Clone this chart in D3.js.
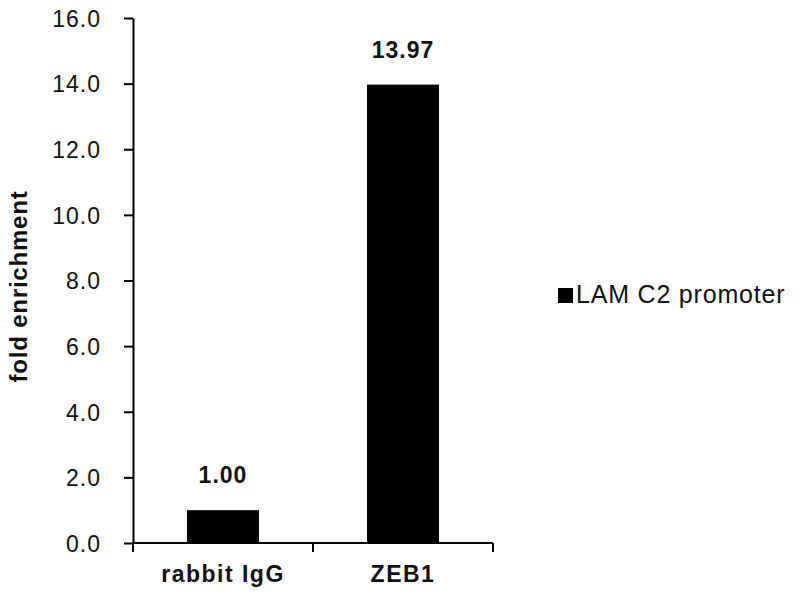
<!DOCTYPE html>
<html>
<head>
<meta charset="utf-8">
<script src="https://cdn.jsdelivr.net/npm/d3@7"></script>
<style>
  body { margin: 0; background: #fff; }
  svg text { font-family: "Liberation Sans", Arial, sans-serif; fill: #111; }
</style>
</head>
<body>
<svg id="chart" width="800" height="600"></svg>
<script>
// chart data
const categories = ["rabbit IgG", "ZEB1"];
const values = [1.00, 13.97];
const valueLabels = ["1.00", "13.97"];
const yTicks = [0, 2, 4, 6, 8, 10, 12, 14, 16];
const seriesName = "LAM C2 promoter";
const yTitle = "fold enrichment";

const svg = d3.select("#chart");
const plotLeft = 133, plotRight = 493, plotTop = 18, plotBottom = 543;

const x = d3.scaleBand()
  .domain(categories)
  .range([plotLeft, plotRight])
  .paddingInner(0.6)
  .paddingOuter(0.3);

const y = d3.scaleLinear()
  .domain([0, 16])
  .range([plotBottom, plotTop]);

// bars
svg.append("g")
  .selectAll("rect")
  .data(values)
  .enter().append("rect")
  .attr("x", (d, i) => x(categories[i]))
  .attr("y", d => y(d))
  .attr("width", x.bandwidth())
  .attr("height", d => y(0) - y(d))
  .attr("fill", "#000");

// value labels
svg.append("g")
  .selectAll("text")
  .data(values)
  .enter().append("text")
  .attr("x", (d, i) => x(categories[i]) + x.bandwidth() / 2)
  .attr("y", d => y(d) - 27)
  .attr("text-anchor", "middle")
  .style("font-size", "23px")
  .style("font-weight", "bold")
  .style("letter-spacing", "1px")
  .text((d, i) => valueLabels[i]);

// y axis
const yAxis = svg.append("g")
  .attr("transform", `translate(${plotLeft},0)`)
  .call(d3.axisLeft(y)
    .tickValues(yTicks)
    .tickFormat(d3.format(".1f"))
    .tickSize(9)
    .tickSizeOuter(0)
    .tickPadding(23));
yAxis.select(".domain").attr("stroke", "#000").attr("stroke-width", 2);
yAxis.selectAll(".tick line").attr("stroke", "#000").attr("stroke-width", 2);
yAxis.selectAll(".tick text")
  .style("font-size", "23px")
  .style("letter-spacing", "1px")
  .attr("dy", "0.36em");

// x axis: line plus ticks at category boundaries
const xAxis = svg.append("g").attr("transform", `translate(0,${plotBottom})`);
xAxis.append("line")
  .attr("x1", plotLeft).attr("x2", plotRight)
  .attr("stroke", "#000").attr("stroke-width", 2);
const bounds = d3.range(categories.length + 1).map(i => plotLeft + i * x.step());
xAxis.selectAll(".bound")
  .data(bounds)
  .enter().append("line")
  .attr("class", "bound")
  .attr("x1", d => d).attr("x2", d => d)
  .attr("y1", 0).attr("y2", 9)
  .attr("stroke", "#000").attr("stroke-width", 2);
xAxis.selectAll(".cat")
  .data(categories)
  .enter().append("text")
  .attr("class", "cat")
  .attr("x", d => x(d) + x.bandwidth() / 2)
  .attr("y", 39)
  .attr("text-anchor", "middle")
  .style("font-size", "23px")
  .style("font-weight", "bold")
  .style("letter-spacing", "1.5px")
  .text(d => d);

// y title
svg.append("text")
  .attr("transform", `translate(27,${(plotTop + plotBottom) / 2 + 6}) rotate(-90)`)
  .attr("text-anchor", "middle")
  .style("font-size", "24px")
  .style("font-weight", "bold")
  .style("letter-spacing", "0.8px")
  .text(yTitle);

// legend
const legend = svg.append("g").attr("transform", "translate(558,288)");
legend.append("rect")
  .attr("width", 15).attr("height", 15)
  .attr("fill", "#000");
legend.append("text")
  .attr("x", 18).attr("y", 15)
  .style("font-size", "25px")
  .style("letter-spacing", "0.8px")
  .text(seriesName);
</script>
</body>
</html>
